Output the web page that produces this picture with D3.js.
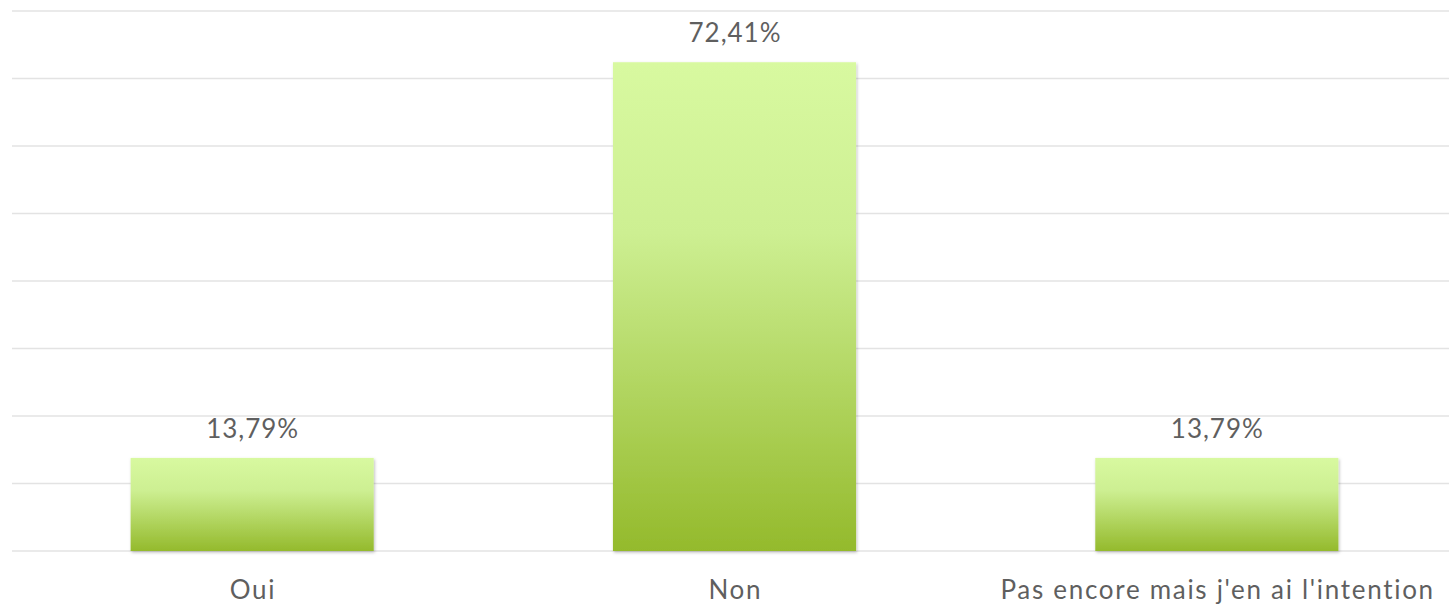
<!DOCTYPE html>
<html><head><meta charset="utf-8">
<script src="https://cdn.jsdelivr.net/npm/d3@7"></script>
<style>html,body{margin:0;padding:0;background:#fff;}svg{display:block;}</style>
</head><body>
<svg id="chart" width="1449" height="606"></svg>
<script>
const categories = ["Oui", "Non", "Pas encore mais j'en ai l'intention"];
const values = [13.79, 72.41, 13.79];
const valueLabels = ["13,79%", "72,41%", "13,79%"];
const gridTicks = [0, 10, 20, 30, 40, 50, 60, 70, 80];

const svg = d3.select("#chart");
const W = 1449, H = 606;
const m = {left: 11, right: -9, top: 11, bottom: 55};
const x = d3.scaleBand().domain(categories).range([m.left, W - m.right]).paddingInner(0.496).paddingOuter(0.248);
const y = d3.scaleLinear().domain([0, 80]).range([H - m.bottom, m.top]);

const defs = svg.append("defs");
const grad = defs.append("linearGradient").attr("id", "barGrad").attr("x1", 0).attr("y1", 0).attr("x2", 0).attr("y2", 1);
grad.append("stop").attr("offset", "0%").attr("stop-color", "#d8f9a0");
grad.append("stop").attr("offset", "35%").attr("stop-color", "#cdef92");
grad.append("stop").attr("offset", "100%").attr("stop-color", "#94ba2c");
const f = defs.append("filter").attr("id", "shadow").attr("x", "-5%").attr("y", "-5%").attr("width", "110%").attr("height", "110%");
f.append("feDropShadow").attr("dx", 1).attr("dy", 1.5).attr("stdDeviation", 1.5).attr("flood-color", "#000").attr("flood-opacity", 0.25);

svg.append("g").selectAll("line").data(gridTicks).join("line")
  .attr("x1", 12).attr("x2", W)
  .attr("y1", d => y(d)).attr("y2", d => y(d))
  .attr("stroke", "#e3e3e3").attr("stroke-width", 1.6);

svg.append("g").selectAll("rect").data(values).join("rect")
  .attr("x", (d, i) => x(categories[i]))
  .attr("width", x.bandwidth())
  .attr("y", d => y(d))
  .attr("height", d => y(0) - y(d))
  .attr("fill", "url(#barGrad)")
  .attr("filter", "url(#shadow)");

const font = "Lato, 'Open Sans', sans-serif";
svg.append("g").selectAll("text").data(values).join("text")
  .attr("x", (d, i) => x(categories[i]) + x.bandwidth() / 2 + 0.5)
  .attr("y", d => y(d) - 20)
  .attr("text-anchor", "middle")
  .attr("font-family", font).attr("font-size", 26)
  .attr("letter-spacing", 1)
  .attr("fill", "#5f5f5f")
  .text((d, i) => valueLabels[i]);

svg.append("g").selectAll("text").data(categories).join("text")
  .attr("x", d => x(d) + x.bandwidth() / 2 + 0.8)
  .attr("y", y(0) + 48)
  .attr("text-anchor", "middle")
  .attr("font-family", font).attr("font-size", 26)
  .attr("letter-spacing", 1.7)
  .attr("fill", "#5f5f5f")
  .text(d => d);
</script>
</body></html>
